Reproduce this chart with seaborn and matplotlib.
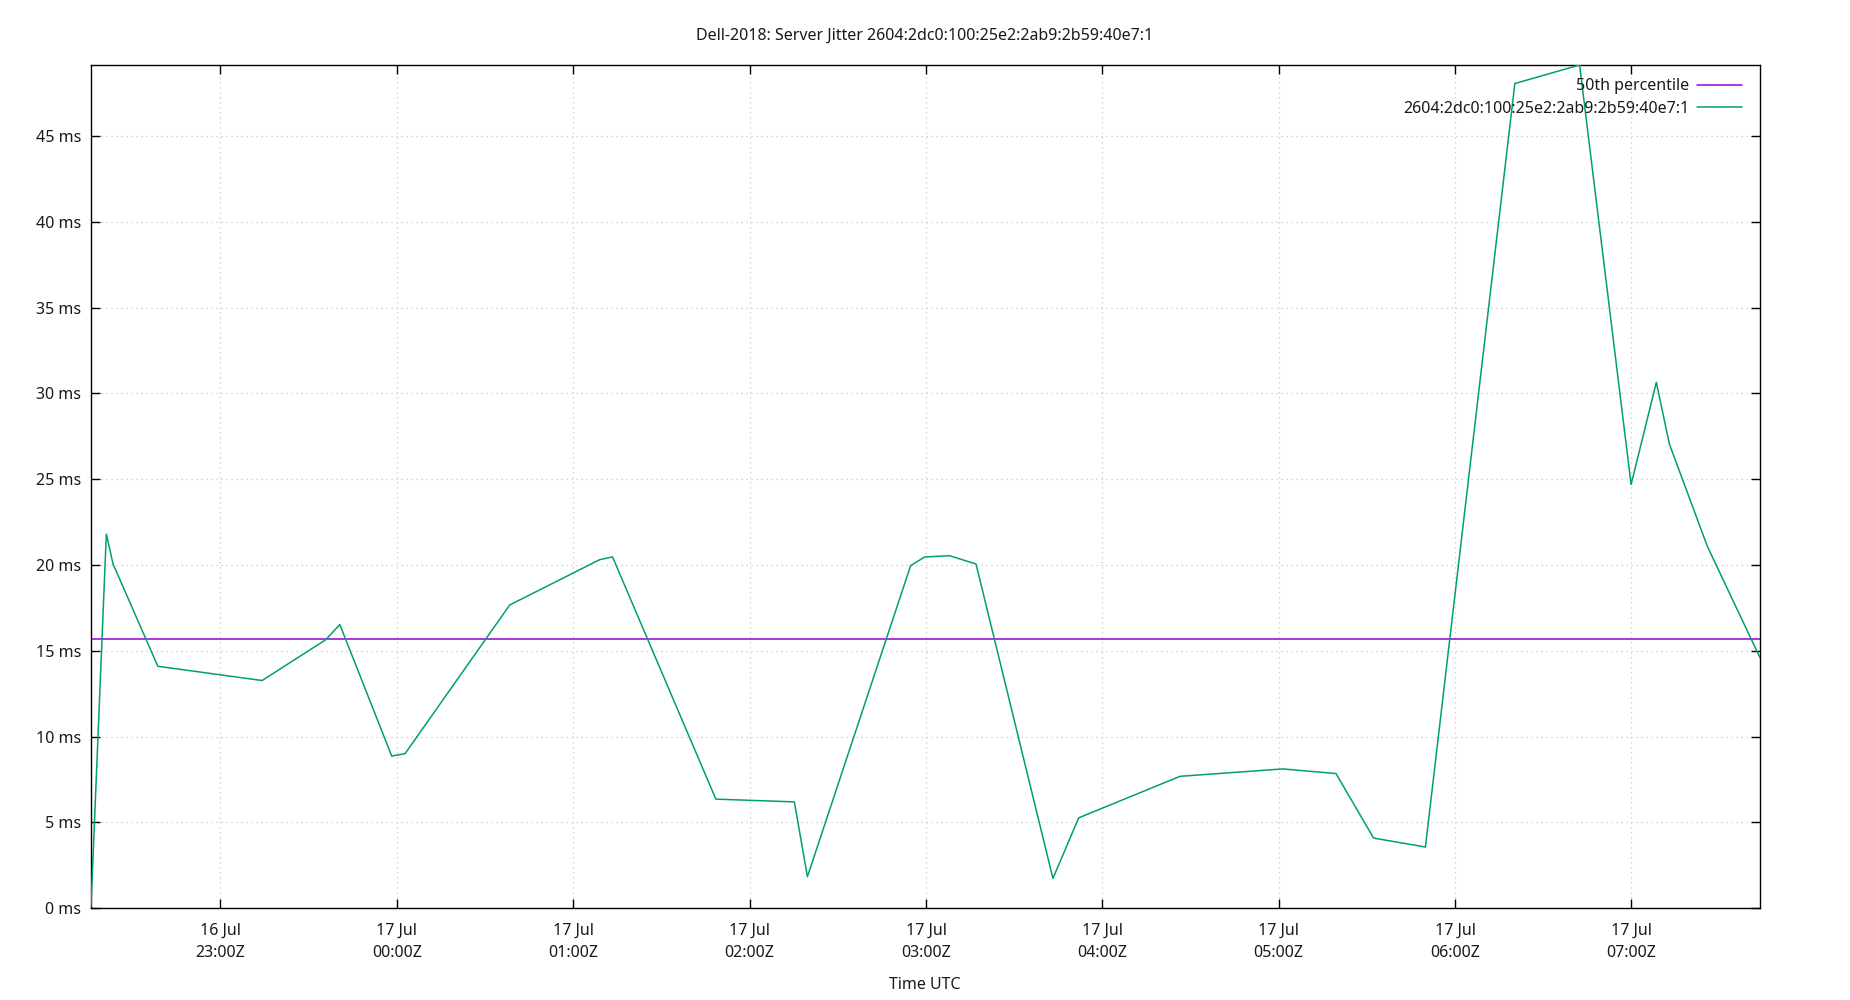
import matplotlib
matplotlib.use("Agg")
import matplotlib.pyplot as plt
import matplotlib.dates as mdates
import matplotlib.ticker as mticker
import seaborn as sns
import pandas as pd

# ---- data ----
title_text = "Dell-2018: Server Jitter 2604:2dc0:100:25e2:2ab9:2b59:40e7:1"
series_name = "2604:2dc0:100:25e2:2ab9:2b59:40e7:1"
median_name = "50th percentile"
x_label = "Time UTC"

times = [
    "2024-07-16 22:15:58", "2024-07-16 22:21:11", "2024-07-16 22:23:28",
    "2024-07-16 22:38:42", "2024-07-16 23:14:10", "2024-07-16 23:35:46",
    "2024-07-16 23:40:37", "2024-07-16 23:58:16", "2024-07-17 00:02:49",
    "2024-07-17 00:38:24", "2024-07-17 01:09:00", "2024-07-17 01:13:23",
    "2024-07-17 01:48:32", "2024-07-17 02:15:14", "2024-07-17 02:19:41",
    "2024-07-17 02:54:47", "2024-07-17 02:59:35", "2024-07-17 03:08:02",
    "2024-07-17 03:17:02", "2024-07-17 03:43:12", "2024-07-17 03:51:58",
    "2024-07-17 04:26:28", "2024-07-17 05:01:26", "2024-07-17 05:19:30",
    "2024-07-17 05:32:17", "2024-07-17 05:49:55", "2024-07-17 06:20:20",
    "2024-07-17 06:42:22", "2024-07-17 06:59:53", "2024-07-17 07:08:28",
    "2024-07-17 07:12:54", "2024-07-17 07:25:52", "2024-07-17 07:43:44",
]
jitter_ms = [
    0.13, 21.8, 20.06, 14.1, 13.27, 15.64, 16.53, 8.87, 9.01, 17.67,
    20.31, 20.47, 6.36, 6.20, 1.84, 19.96, 20.47, 20.54, 20.06, 1.74,
    5.27, 7.69, 8.12, 7.85, 4.09, 3.57, 48.05, 49.13, 24.69, 30.64,
    27.05, 21.07, 14.6,
]
median_ms = 15.70
y_ticks = [0, 5, 10, 15, 20, 25, 30, 35, 40, 45]

df = pd.DataFrame({"time": pd.to_datetime(times), "jitter": jitter_ms})

# ---- style ----
sns.set_style("ticks")
plt.rcParams["font.family"] = ["Noto Sans", "DejaVu Sans"]
plt.rcParams["axes.linewidth"] = 1.0
FS = 11.5
TXT = "#1a1a1a"

fig = plt.figure(figsize=(18.5, 10), dpi=100)
ax = fig.add_axes([91 / 1850, 1 - 908.3 / 1000, (1760 - 91) / 1850, (908.3 - 65) / 1000])

ax.axhline(median_ms, color="#9400D3", lw=1.1, label=median_name, zorder=2)
sns.lineplot(data=df, x="time", y="jitter", color="#009E73", lw=1.1,
             label=series_name, ax=ax, zorder=3)

ax.set_xlim(df["time"].min(), df["time"].max())
ax.set_ylim(0, max(jitter_ms))

ax.xaxis.set_major_locator(mdates.HourLocator(interval=1))
ax.xaxis.set_major_formatter(mdates.DateFormatter("%d %b\n%H:%MZ"))
ax.set_yticks(y_ticks)
ax.yaxis.set_major_formatter(mticker.FuncFormatter(lambda v, p: f"{int(v)} ms"))

ax.tick_params(axis="both", which="major", direction="in", length=6.5, width=1.0,
               top=True, right=True, labelsize=FS, colors="black", labelcolor=TXT)
ax.tick_params(axis="x", pad=10.7)
ax.tick_params(axis="y", pad=7)
for lbl in ax.get_xticklabels():
    lbl.set_linespacing(1.45)

ax.grid(True, color="#c8c8c8", linestyle=(0, (1, 3)), linewidth=0.9)
for s in ax.spines.values():
    s.set_color("black")
    s.set_linewidth(1.0)

ax.set_xlabel("")
ax.set_ylabel("")

leg = ax.legend(loc="upper right", bbox_to_anchor=(0.9892, 0.984), frameon=False,
                markerfirst=False, fontsize=FS, handlelength=2.8, handletextpad=0.5,
                borderpad=0, borderaxespad=0, labelspacing=0.4)
for t in leg.get_texts():
    t.set_color(TXT)

fig.text(0.5, 1 - 35.5 / 1000, title_text, ha="center", va="center", fontsize=FS, color=TXT)
fig.text(0.5, 1 - 985 / 1000, x_label, ha="center", va="center", fontsize=FS, color=TXT)

fig.savefig("out.png", dpi=100)
